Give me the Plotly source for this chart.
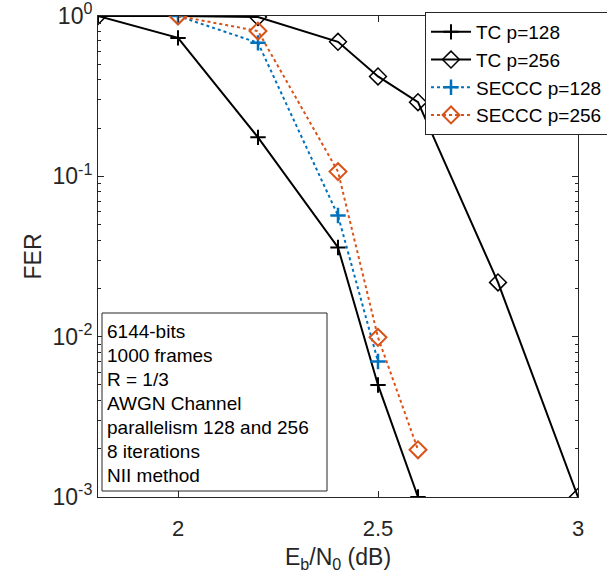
import plotly.graph_objects as go

x_tc128 = [1.8, 2.0, 2.2, 2.4, 2.5, 2.6]
y_tc128 = [1.0, 0.73, 0.175, 0.036, 0.005, 0.001]

x_tc256 = [1.8, 2.0, 2.2, 2.4, 2.5, 2.6, 2.8, 3.0]
y_tc256 = [1.0, 1.0, 0.985, 0.69, 0.42, 0.29, 0.0218, 0.001]

x_s128 = [2.0, 2.2, 2.4, 2.5]
y_s128 = [1.0, 0.68, 0.057, 0.007]

x_s256 = [2.0, 2.2, 2.4, 2.5, 2.6]
y_s256 = [1.0, 0.806, 0.107, 0.0099, 0.00197]

names = ["TC p=128", "TC p=256", "SECCC p=128", "SECCC p=256"]
info_lines = ["6144-bits", "1000 frames", "R = 1/3", "AWGN Channel",
              "parallelism 128 and 256", "8 iterations", "NII method"]
yticks = [1, 0.1, 0.01, 0.001]
ytext = ["10<sup>0</sup>", "10<sup>-1</sup>", "10<sup>-2</sup>", "10<sup>-3</sup>"]
xticks = [2, 2.5, 3]
yminor = [m * 10 ** e for e in (-3, -2, -1) for m in range(2, 10)]

BLUE = "#0072BD"
ORANGE = "#D95319"
AX = "#262626"
FONT = "Liberation Sans, Arial, sans-serif"

fig = go.Figure()
fig.add_trace(go.Scatter(x=x_tc128, y=y_tc128, name=names[0], mode="lines+markers",
                         line=dict(color="black", width=2),
                         marker=dict(symbol="cross-thin", size=11, line=dict(color="black", width=2))))
fig.add_trace(go.Scatter(x=x_tc256, y=y_tc256, name=names[1], mode="lines+markers",
                         line=dict(color="black", width=2),
                         marker=dict(symbol="diamond-open", size=13, color="black", line=dict(color="black", width=1.5))))
fig.add_trace(go.Scatter(x=x_s128, y=y_s128, name=names[2], mode="lines+markers",
                         line=dict(color=BLUE, width=2, dash="dot"),
                         marker=dict(symbol="cross-thin", size=11, line=dict(color=BLUE, width=2.5))))
fig.add_trace(go.Scatter(x=x_s256, y=y_s256, name=names[3], mode="lines+markers",
                         line=dict(color=ORANGE, width=2, dash="dot"),
                         marker=dict(symbol="diamond-open", size=13, color=ORANGE, line=dict(color=ORANGE, width=2))))

# info box
fig.add_shape(type="rect", xref="paper", yref="paper",
              x0=(102 - 98) / 480, x1=(327 - 98) / 480,
              y0=(497 - 491) / 481, y1=(497 - 313) / 481,
              line=dict(color=AX, width=1), fillcolor="white", layer="above")
for i, t in enumerate(info_lines):
    ypix = 331 + 24 * i
    fig.add_annotation(text=t, xref="paper", yref="paper", x=(105 - 98) / 480,
                       y=(497 - ypix) / 481, xanchor="left", yanchor="middle",
                       showarrow=False, font=dict(family=FONT, size=19, color="black"))

fig.update_layout(
    width=607, height=584,
    margin=dict(l=98, r=29, t=16, b=87, autoexpand=False),
    plot_bgcolor="white", paper_bgcolor="white",
    font=dict(family=FONT, color=AX),
    showlegend=True,
    legend=dict(x=(425 - 98) / 480, y=(497 - 12) / 481, xanchor="left", yanchor="top",
                bgcolor="white", bordercolor=AX, borderwidth=1,
                font=dict(family=FONT, size=19, color="black"),
                tracegroupgap=0, itemwidth=40),
    xaxis=dict(range=[1.8, 3.0], tickvals=xticks, ticktext=["2", "2.5", "3"],
               ticks="inside", ticklen=6, tickcolor=AX,
               showline=True, linecolor=AX, linewidth=1, mirror="ticks",
               showgrid=False, zeroline=False, automargin=False,
               ticklabelstandoff=12, ticklabeloverflow="allow",
               tickfont=dict(size=22, color=AX),
               title=dict(text="E<sub>b</sub>/N<sub>0</sub> (dB)", font=dict(size=23, color=AX), standoff=8)),
    yaxis=dict(type="log", range=[-3, 0], tickvals=yticks, ticktext=ytext,
               ticks="inside", ticklen=6, tickcolor=AX,
               showline=True, linecolor=AX, linewidth=1, mirror="ticks",
               showgrid=False, zeroline=False, automargin=False,
               ticklabeloverflow="allow",
               tickfont=dict(size=23, color=AX),
               minor=dict(ticks="inside", ticklen=3, tickcolor=AX, tickvals=yminor, showgrid=False),
               title=dict(text="FER", font=dict(size=23, color=AX), standoff=4)),
)

fig.write_html("out.html", config={"displayModeBar": False},
               post_script="document.body.style.margin='0';")
